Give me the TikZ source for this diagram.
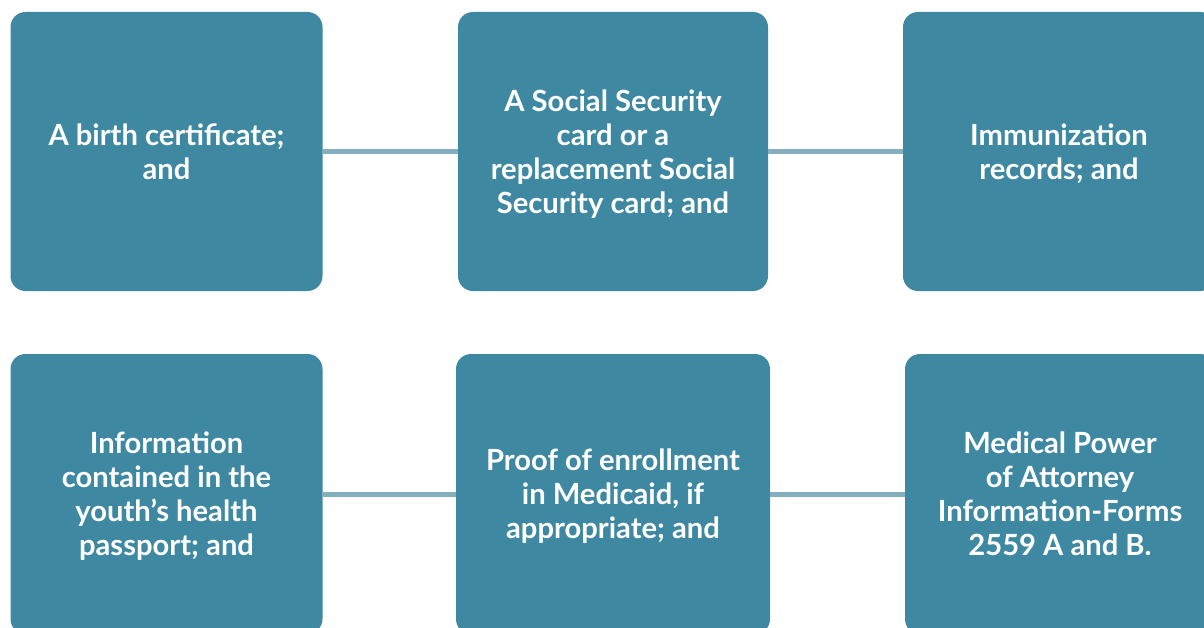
\documentclass[tikz,border=0pt]{standalone}
\usepackage{fontspec}
\setmainfont{Lato}
\usepackage{tikz}
\usetikzlibrary{positioning}

\definecolor{cardteal}{HTML}{3E88A2}
\definecolor{linkteal}{HTML}{84AFBF}

\begin{document}
\begin{tikzpicture}[
    font=\bfseries\fontsize{16.6}{19.4}\selectfont,
    card/.style={rectangle, rounded corners=0.3cm, fill=cardteal, text=white,
      align=center, minimum width=6.24cm, minimum height=5.58cm, inner sep=0pt,
      text depth=0pt},
    link/.style={line width=0.1cm, linkteal}
  ]

  \useasboundingbox (0,0) rectangle (24.08,-12.56);
  \clip (0,0) rectangle (24.08,-12.56);

  % --- Top Row ---
  \node[card] (birth) at (3.33,-3.03) {A birth certificate;\\and};
  \node[card, minimum width=6.2cm] (social) at (12.26,-3.03)
    {A Social Security\\card or a\\replacement Social\\Security card; and};
  \node[card] (immun) at (21.18,-3.03) {Immunization\\records; and};

  % --- Bottom Row ---
  \node[card, minimum height=5.6cm] (passport) at (3.33,-9.88)
    {Information\\contained in the\\youth’s health\\passport; and};
  \node[card, minimum width=6.28cm, minimum height=5.6cm] (medicaid) at (12.26,-9.88)
    {Proof of enrollment\\in Medicaid, if\\appropriate; and};
  \node[card, minimum width=6.2cm, minimum height=5.6cm] (attorney) at (21.2,-9.88)
    {Medical Power\\of Attorney\\Information-Forms\\2559 A and B.};

  % --- Connectors ---
  \draw[link] (birth) -- (social);
  \draw[link] (social) -- (immun);
  \draw[link] (passport) -- (medicaid);
  \draw[link] (medicaid) -- (attorney);

\end{tikzpicture}
\end{document}
